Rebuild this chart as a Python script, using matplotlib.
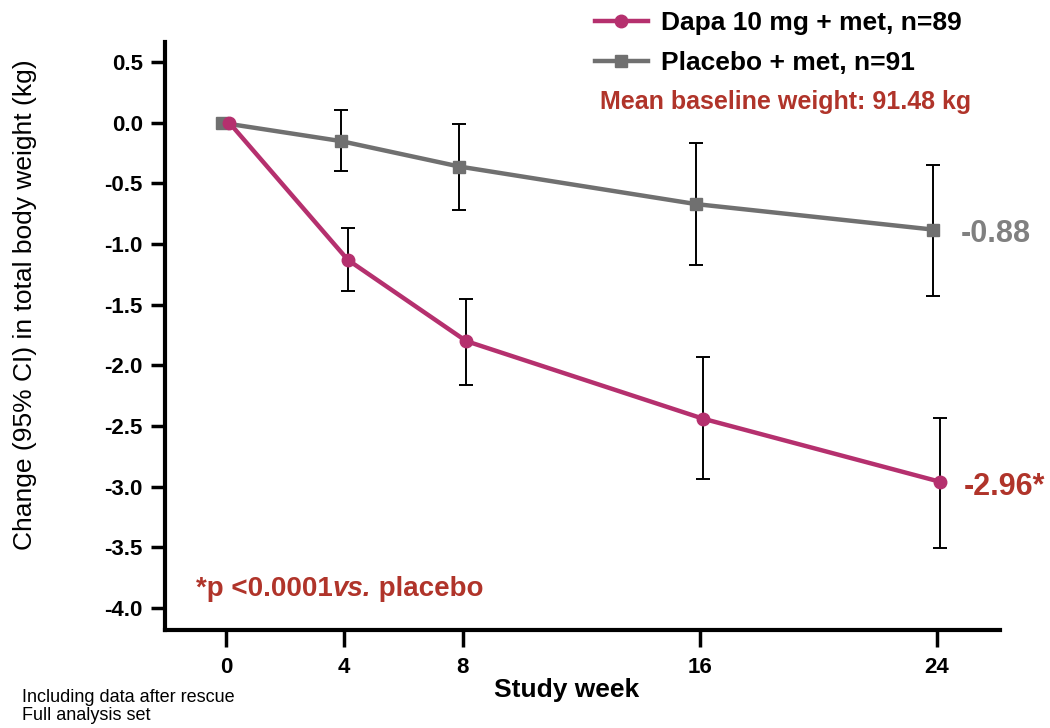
import matplotlib
matplotlib.use("Agg")
import matplotlib.pyplot as plt
import numpy as np

plt.rcParams["font.family"] = ["Liberation Sans", "DejaVu Sans"]

# Change from baseline in total body weight (kg), with 95% CI
weeks = [0, 4, 8, 16, 24]
dapa_mean = [0.0, -1.13, -1.80, -2.44, -2.96]
dapa_lo = [0.0, -1.39, -2.16, -2.94, -3.51]
dapa_hi = [0.0, -0.87, -1.45, -1.93, -2.43]
plac_mean = [0.0, -0.15, -0.36, -0.67, -0.88]
plac_lo = [0.0, -0.40, -0.72, -1.17, -1.43]
plac_hi = [0.0, 0.11, -0.01, -0.17, -0.35]

y_ticks = [0.5, 0.0, -0.5, -1.0, -1.5, -2.0, -2.5, -3.0, -3.5, -4.0]

DAPA = "#B5306E"
PLAC = "#707070"
RED = "#B0342A"

fig = plt.figure(figsize=(10.5, 7.28), dpi=100)
ax = fig.add_axes([0.157, 0.135, 0.795, 0.807])

wk = np.array(weeks, dtype=float)
pm = np.array(plac_mean)
dm = np.array(dapa_mean)

# placebo nudged left, dapa nudged right so the CIs don't sit on each other
xp = wk - 0.12
xd = wk + 0.12
err_p = [pm[1:] - np.array(plac_lo[1:]), np.array(plac_hi[1:]) - pm[1:]]
err_d = [dm[1:] - np.array(dapa_lo[1:]), np.array(dapa_hi[1:]) - dm[1:]]

ax.errorbar(xp[1:], pm[1:], yerr=err_p, fmt="none", ecolor="black",
            elinewidth=1.4, capsize=5, capthick=1.4, zorder=2)
ax.errorbar(xd[1:], dm[1:], yerr=err_d, fmt="none", ecolor="black",
            elinewidth=1.4, capsize=5, capthick=1.4, zorder=2)

ax.plot(xd, dm, color=DAPA, linewidth=3.2, marker="o", markersize=9,
        label="Dapa 10 mg + met, n=89", zorder=4)
ax.plot(xp, pm, color=PLAC, linewidth=3.2, marker="s", markersize=9,
        label="Placebo + met, n=91", zorder=3)

ax.annotate(f"{plac_mean[-1]:.2f}", (xp[-1], pm[-1]), xytext=(20, -3),
            textcoords="offset points", va="center", ha="left",
            fontsize=22, fontweight="bold", color="#808080")
ax.annotate(f"{dapa_mean[-1]:.2f}*", (xd[-1], dm[-1]), xytext=(17, -4),
            textcoords="offset points", va="center", ha="left",
            fontsize=22, fontweight="bold", color=RED)

# footnote on significance, "vs." set in italics
p_y = -3.9
t1 = ax.text(-1.0, p_y, "*p <0.0001", fontsize=20, color=RED,
             fontweight="bold", va="baseline", ha="left")
t2 = ax.annotate("vs.", xy=(1, p_y), xycoords=(t1, "data"), fontsize=20,
                 color=RED, fontweight="bold", style="italic",
                 va="baseline", ha="left")
ax.annotate(" placebo", xy=(1, p_y), xycoords=(t2, "data"), fontsize=20,
            color=RED, fontweight="bold", va="baseline", ha="left")

ax.set_xlim(-2.06, 26.13)
ax.set_ylim(-4.18, 0.665)
ax.set_xticks(weeks)
ax.set_yticks(y_ticks)
ax.set_yticklabels([f"{v:.1f}" for v in y_ticks])
for lab in ax.get_xticklabels() + ax.get_yticklabels():
    lab.set_fontweight("bold")
    lab.set_fontsize(16)
ax.tick_params(axis="y", direction="out", length=10, width=2.5, pad=6)
ax.tick_params(axis="x", direction="out", length=12, width=2.5, pad=8)

for side in ("top", "right"):
    ax.spines[side].set_visible(False)
for side in ("left", "bottom"):
    ax.spines[side].set_linewidth(3)

fig.text(25 / 1050, 1 - 305 / 728, "Change (95% CI) in total body weight (kg)",
         fontsize=19, rotation=90, ha="center", va="center")
fig.text(567 / 1050, 1 - 690 / 728, "Study week", fontsize=19,
         fontweight="bold", ha="center", va="center")

fig.legend(loc="upper left", bbox_to_anchor=(595 / 1050, 1 - 11 / 728),
           frameon=False, prop={"size": 19, "weight": "bold"},
           handlelength=2.0, handletextpad=0.5, labelspacing=0.62,
           borderpad=0, borderaxespad=0)

fig.text(600 / 1050, 1 - 102 / 728, "Mean baseline weight: 91.48 kg",
         ha="left", va="center", fontsize=18, fontweight="bold", color=RED)

fig.text(22 / 1050, 1 - 698 / 728, "Including data after rescue",
         fontsize=13, va="center")
fig.text(22 / 1050, 1 - 716 / 728, "Full analysis set", fontsize=13,
         va="center")

fig.savefig("out.png", dpi=100)
plt.close(fig)
